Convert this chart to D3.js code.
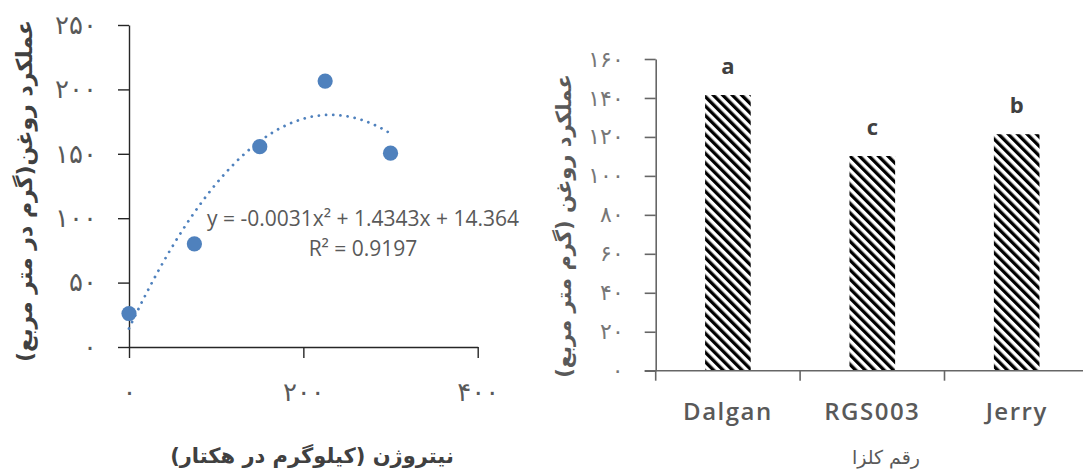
<!DOCTYPE html>
<html><head><meta charset="utf-8">
<script src="https://cdn.jsdelivr.net/npm/d3@7"></script>
<style>
html,body{margin:0;padding:0;background:#fff;}
svg{display:block;}
</style></head>
<body>
<svg id="c" width="1083" height="472"></svg>
<script>
// ---- data ----
const nitrogen = [0, 75, 150, 225, 300];
const oilYieldN = [26, 80, 155.5, 206.5, 150.5];
const trendCoef = [-0.0031, 1.4343, 14.364];
const trendEquation = "y = -0.0031x\u00B2 + 1.4343x + 14.364";
const trendR2 = "R\u00B2 = 0.9197";
const leftYTicks = [0, 50, 100, 150, 200, 250];
const leftXTicks = [0, 200, 400];
const leftYTitle = "عملکرد روغن(گرم در متر مربع)";
const leftXTitle = "نیتروژن (کیلوگرم در هکتار)";

const cultivars = ["Dalgan", "RGS003", "Jerry"];
const cultivarYield = [141.5, 110.2, 121.4];
const groupLetters = ["a", "c", "b"];
const rightYTicks = [0, 20, 40, 60, 80, 100, 120, 140, 160];
const rightYTitle = "عملکرد روغن (گرم متر مربع)";
const rightXTitle = "رقم کلزا";

const fa = d => String(d).replace(/\d/g, c => "۰۱۲۳۴۵۶۷۸۹"[+c]);

const svg = d3.select("#c");
const BLUE = "#4f81bd";
const AR = "'DejaVu Sans', sans-serif";

// pattern
const defs = svg.append("defs");
const pat = defs.append("pattern").attr("id","hatch").attr("patternUnits","userSpaceOnUse")
  .attr("width", 6.7).attr("height", 6.7).attr("patternTransform","rotate(-45)");
pat.append("rect").attr("width",6.7).attr("height",6.7).attr("fill","#fff");
pat.append("rect").attr("x",0).attr("width",3.3).attr("height",6.7).attr("fill","#000");

// ================= LEFT CHART =================
const xL = d3.scaleLinear().domain([0, 400]).range([129, 477.7]);
const yL = d3.scaleLinear().domain([0, 250]).range([347, 25]);

const gyL = svg.append("g").attr("transform", `translate(${xL(0)},0)`)
  .call(d3.axisLeft(yL).tickValues(leftYTicks).tickSize(11).tickSizeOuter(0).tickPadding(21).tickFormat(fa));
const gxL = svg.append("g").attr("transform", `translate(0,${yL(0)})`)
  .call(d3.axisBottom(xL).tickValues(leftXTicks).tickSize(11).tickSizeOuter(0).tickFormat(fa));
[gyL, gxL].forEach(g => {
  g.select(".domain").attr("stroke", "#262626").attr("stroke-width", 1.4);
  g.selectAll(".tick line").attr("stroke", "#262626").attr("stroke-width", 1.4);
  g.selectAll("text").attr("font-family", AR).attr("font-size", 26).attr("fill", "#595959");
});
gxL.selectAll("text").attr("y", 45).attr("dy", "0.35em");

// trend line
const trendX = d3.range(0, 300.01, 2);
const poly = x => trendCoef[0]*x*x + trendCoef[1]*x + trendCoef[2];
svg.append("path")
  .attr("d", d3.line().x(d => xL(d)).y(d => yL(poly(d)))(trendX))
  .attr("fill", "none").attr("stroke", BLUE).attr("stroke-width", 2.8)
  .attr("stroke-linecap", "round").attr("stroke-dasharray", "0.01 7.2");

// points
svg.append("g").selectAll("circle").data(nitrogen).join("circle")
  .attr("cx", d => xL(d)).attr("cy", (d, i) => yL(oilYieldN[i]))
  .attr("r", 7.6).attr("fill", BLUE);

// equation
svg.append("text").attr("x", 363).attr("y", 226).attr("text-anchor", "middle")
  .attr("font-family", "'Open Sans', sans-serif").attr("font-size", 21).attr("fill", "#595959")
  .text(trendEquation);
svg.append("text").attr("x", 363).attr("y", 256).attr("text-anchor", "middle")
  .attr("font-family", "'Open Sans', sans-serif").attr("font-size", 21).attr("fill", "#595959")
  .text(trendR2);

// titles
svg.append("text").attr("transform", "translate(32,191) rotate(-90)")
  .attr("text-anchor", "middle").attr("direction", "rtl")
  .attr("font-family", AR).attr("font-weight", "bold").attr("font-size", 22).attr("fill", "#404040")
  .text(leftYTitle);
svg.append("text").attr("x", 312).attr("y", 463)
  .attr("text-anchor", "middle").attr("direction", "rtl")
  .attr("font-family", AR).attr("font-weight", "bold").attr("font-size", 21).attr("fill", "#404040")
  .text(leftXTitle);

// ================= RIGHT CHART =================
const xR = d3.scaleBand().domain(cultivars).range([655.7, 655.7 + 3*144.4]).padding(0);
const yR = d3.scaleLinear().domain([0, 160]).range([370.7, 59]);
const barW = xR.bandwidth() * 0.316;

svg.append("g").selectAll("rect").data(cultivars).join("rect")
  .attr("x", d => xR(d) + xR.bandwidth()/2 - barW/2)
  .attr("y", (d, i) => yR(cultivarYield[i]))
  .attr("width", barW)
  .attr("height", (d, i) => yR(0) - yR(cultivarYield[i]))
  .attr("fill", "url(#hatch)");

const gyR = svg.append("g").attr("transform", `translate(${xR.range()[0]},0)`)
  .call(d3.axisLeft(yR).tickValues(rightYTicks).tickSize(11).tickSizeOuter(0).tickPadding(21).tickFormat(fa));
gyR.select(".domain").attr("stroke", "#666").attr("stroke-width", 1.6);
gyR.selectAll(".tick line").attr("stroke", "#666").attr("stroke-width", 1.6);
gyR.selectAll("text").attr("font-family", AR).attr("font-size", 22).attr("fill", "#777");

// x axis line + boundary ticks
svg.append("line").attr("x1", xR.range()[0] - 11).attr("x2", 1083)
  .attr("y1", yR(0)).attr("y2", yR(0)).attr("stroke", "#666").attr("stroke-width", 1.6);
svg.append("g").selectAll("line").data(cultivars).join("line")
  .attr("x1", d => xR(d)).attr("x2", d => xR(d))
  .attr("y1", yR(0)).attr("y2", yR(0) + 10).attr("stroke", "#666").attr("stroke-width", 1.6);

// category labels
svg.append("g").selectAll("text").data(cultivars).join("text")
  .attr("x", d => xR(d) + xR.bandwidth()/2).attr("y", 420)
  .attr("text-anchor", "middle").attr("font-family", "'Open Sans', sans-serif")
  .attr("font-weight", 600).attr("font-size", 24).attr("letter-spacing", 1.5).attr("fill", "#595959")
  .text(d => d);

// letters
svg.append("g").selectAll("text").data(cultivars).join("text")
  .attr("x", d => xR(d) + xR.bandwidth()/2).attr("y", (d, i) => yR(cultivarYield[i]) - 21)
  .attr("text-anchor", "middle").attr("font-family", "'Open Sans', sans-serif")
  .attr("font-weight", "bold").attr("font-size", 22).attr("fill", "#404040")
  .text((d, i) => groupLetters[i]);

// titles
svg.append("text").attr("transform", "translate(571,226) rotate(-90)")
  .attr("text-anchor", "middle").attr("direction", "rtl")
  .attr("font-family", AR).attr("font-weight", "bold").attr("font-size", 21).attr("fill", "#595959")
  .text(rightYTitle);
svg.append("text").attr("x", 886).attr("y", 464)
  .attr("text-anchor", "middle").attr("direction", "rtl")
  .attr("font-family", AR).attr("font-size", 19).attr("fill", "#595959")
  .text(rightXTitle);
</script>
</body></html>
